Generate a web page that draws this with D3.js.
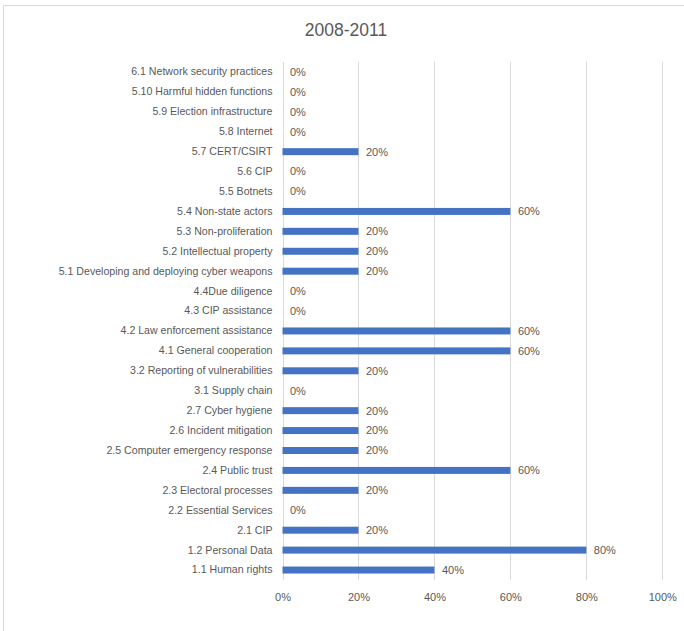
<!DOCTYPE html>
<html>
<head>
<meta charset="utf-8">
<script src="https://cdn.jsdelivr.net/npm/d3@7"></script>
<style>
  html, body { margin: 0; padding: 0; background: #fff; }
  svg { display: block; }
  text { font-family: "Liberation Sans", Arial, sans-serif; fill: #595959; }
</style>
</head>
<body>
<svg id="chart" width="684" height="631"></svg>
<script>
const title = "2008-2011";
const categories = [
  "6.1 Network security practices",
  "5.10 Harmful hidden functions",
  "5.9 Election infrastructure",
  "5.8 Internet",
  "5.7 CERT/CSIRT",
  "5.6 CIP",
  "5.5 Botnets",
  "5.4 Non-state actors",
  "5.3 Non-proliferation",
  "5.2 Intellectual property",
  "5.1 Developing and deploying cyber weapons",
  "4.4Due diligence",
  "4.3 CIP assistance",
  "4.2 Law enforcement assistance",
  "4.1 General cooperation",
  "3.2 Reporting of vulnerabilities",
  "3.1 Supply chain",
  "2.7 Cyber hygiene",
  "2.6 Incident mitigation",
  "2.5 Computer emergency response",
  "2.4 Public trust",
  "2.3 Electoral processes",
  "2.2 Essential Services",
  "2.1 CIP",
  "1.2 Personal Data",
  "1.1 Human rights"
];
const values = [0, 0, 0, 0, 0.2, 0, 0, 0.6, 0.2, 0.2, 0.2, 0, 0, 0.6, 0.6, 0.2, 0, 0.2, 0.2, 0.2, 0.6, 0.2, 0, 0.2, 0.8, 0.4];
const xTicks = [0, 0.2, 0.4, 0.6, 0.8, 1.0];

const data = categories.map((c, i) => ({ cat: c, val: values[i] }));

const svg = d3.select("#chart");
const W = 684, H = 631;
const plot = { left: 282.5, right: 662.3, top: 62, bottom: 580 };

// outer border
svg.append("rect")
  .attr("x", 3.5).attr("y", 5.5)
  .attr("width", 700).attr("height", 700)
  .attr("fill", "none").attr("stroke", "#d9d9d9").attr("stroke-width", 1);

// title
svg.append("text")
  .attr("x", 346).attr("y", 36)
  .attr("text-anchor", "middle")
  .style("font-size", "17.5px")
  .text(title);

const x = d3.scaleLinear().domain([0, 1]).range([plot.left, plot.right]);
const y = d3.scaleBand().domain(categories).range([plot.top, plot.bottom])
  .paddingInner(0.65).paddingOuter(0.325);

// gridlines
svg.append("g").selectAll("line")
  .data(xTicks)
  .join("line")
  .attr("x1", d => Math.round(x(d)) + 0.5).attr("x2", d => Math.round(x(d)) + 0.5)
  .attr("y1", plot.top).attr("y2", plot.bottom)
  .attr("stroke", "#d9d9d9").attr("stroke-width", 1);

// x axis labels
const xAxis = d3.axisBottom(x).tickValues(xTicks).tickFormat(d3.format(".0%")).tickSize(0).tickPadding(0);
const gx = svg.append("g").attr("transform", `translate(0,${plot.bottom})`).call(xAxis);
gx.select(".domain").remove();
gx.selectAll("text")
  .attr("y", 21)
  .attr("dy", 0)
  .style("font-size", "11px")
  .style("font-family", "'Liberation Sans', Arial, sans-serif")
  .attr("fill", "#595959");

// y axis labels
const yAxis = d3.axisLeft(y).tickSize(0).tickPadding(10);
const gy = svg.append("g").attr("transform", `translate(${plot.left},0)`).call(yAxis);
gy.select(".domain").remove();
gy.selectAll("text")
  .style("font-size", "10.6px")
  .style("font-family", "'Liberation Sans', Arial, sans-serif")
  .attr("fill", "#595959");

// bars
svg.append("g").selectAll("rect")
  .data(data)
  .join("rect")
  .attr("x", x(0))
  .attr("y", d => y(d.cat))
  .attr("width", d => x(d.val) - x(0))
  .attr("height", y.bandwidth())
  .attr("fill", "#4472C4");

// data labels
svg.append("g").selectAll("text")
  .data(data)
  .join("text")
  .attr("x", d => x(d.val) + 7.5)
  .attr("y", d => y(d.cat) + y.bandwidth() / 2)
  .attr("dy", "0.35em")
  .style("font-size", "11px")
  .text(d => d3.format(".0%")(d.val));
</script>
</body>
</html>
